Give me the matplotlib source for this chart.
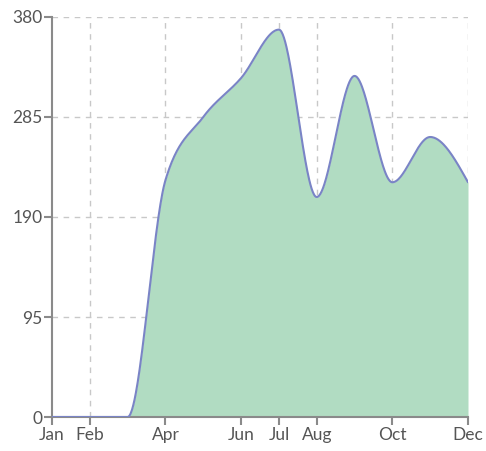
import numpy as np
import matplotlib
matplotlib.use("Agg")
import matplotlib.pyplot as plt

months = ["Jan", "Feb", "Mar", "Apr", "May", "Jun", "Jul", "Aug", "Sep", "Oct", "Nov", "Dec"]
values = [0, 0, 0, 225, 285, 322, 368, 209, 324, 223, 266, 223]
shown_labels = ["Jan", "Feb", "Apr", "Jun", "Jul", "Aug", "Oct", "Dec"]
y_ticks = [0, 95, 190, 285, 380]


def monotone_curve(x, y, n=60):
    x = np.asarray(x, float); y = np.asarray(y, float)
    h = np.diff(x); s = np.diff(y) / h
    m = np.zeros_like(y)
    for i in range(1, len(y) - 1):
        p = (s[i - 1] * h[i] + s[i] * h[i - 1]) / (h[i - 1] + h[i])
        m[i] = (np.sign(s[i - 1]) + np.sign(s[i])) * min(abs(s[i - 1]), abs(s[i]), 0.5 * abs(p))
    m[0] = (3 * s[0] - m[1]) / 2 if len(y) > 2 else s[0]
    m[-1] = (3 * s[-1] - m[-2]) / 2 if len(y) > 2 else s[-1]
    xs, ys = [], []
    for i in range(len(x) - 1):
        t = np.linspace(0, 1, n, endpoint=(i == len(x) - 2))
        h00 = 2 * t**3 - 3 * t**2 + 1
        h10 = t**3 - 2 * t**2 + t
        h01 = -2 * t**3 + 3 * t**2
        h11 = t**3 - t**2
        xs.append(x[i] + t * h[i])
        ys.append(h00 * y[i] + h10 * h[i] * m[i] + h01 * y[i + 1] + h11 * h[i] * m[i + 1])
    return np.concatenate(xs), np.concatenate(ys)


plt.rcParams['font.family'] = ['Lato', 'DejaVu Sans']
fig = plt.figure(figsize=(4.86, 4.51), dpi=100)
ax = fig.add_axes([52 / 486, 1 - 417 / 451, (468 - 52) / 486, 400 / 451])

xi = np.arange(len(months))
cx, cy = monotone_curve(xi, values)
ax.fill_between(cx, 0, cy, color="#b1dcc2", lw=0, zorder=2)
ax.plot(cx, cy, color="#7a84c6", lw=1.5, zorder=3, solid_capstyle="round")

tick_pos = [months.index(m) for m in shown_labels]
ax.set_xticks(tick_pos)
ax.set_xticklabels(shown_labels)
ax.set_yticks(y_ticks)
ax.set_xlim(0, len(months) - 1)
ax.set_ylim(0, 380)

for p in tick_pos[1:]:
    ax.axvline(p, color="#c8c8c8", lw=1, ls=(0, (4, 4)), zorder=1)
for v in y_ticks[1:]:
    ax.axhline(v, color="#c8c8c8", lw=1, ls=(0, (4, 4)), zorder=1)

for sp in ["top", "right"]:
    ax.spines[sp].set_visible(False)
for sp in ["left", "bottom"]:
    ax.spines[sp].set_color("#8a8a8a")
    ax.spines[sp].set_linewidth(1.5)
ax.tick_params(axis="both", colors="#8a8a8a", width=1.5, length=6,
               labelcolor="#555555", labelsize=12.5, pad=1)

fig.savefig("out.png", dpi=100)
